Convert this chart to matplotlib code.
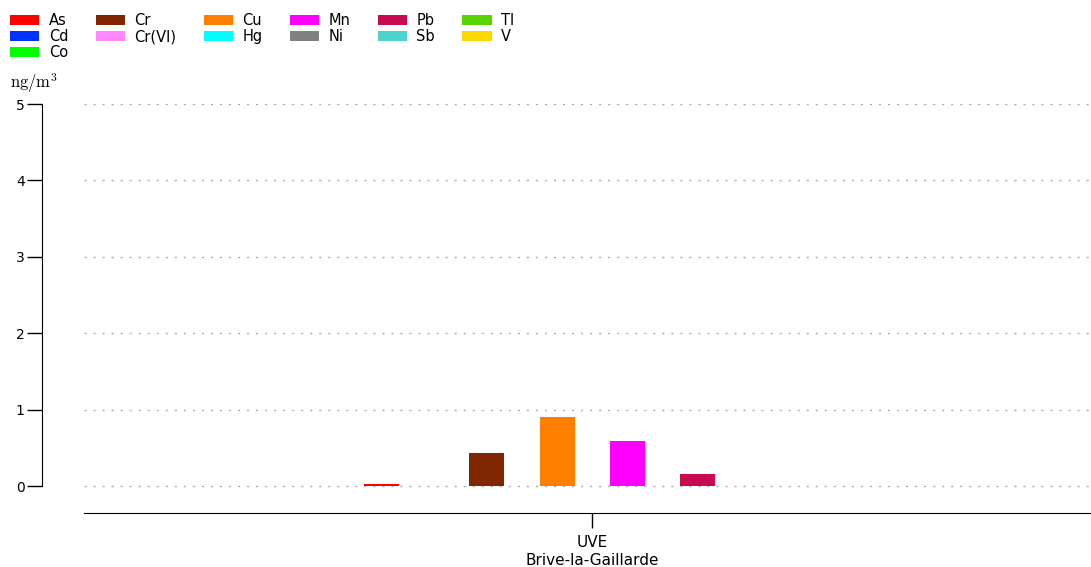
import numpy as np
import matplotlib
matplotlib.use("Agg")
import matplotlib.pyplot as plt

plt.rcParams['mathtext.fontset'] = 'cm'

# data (ng/m3), nan = no bar
elements = ['As', 'Cd', 'Co', 'Cr', 'Cr(VI)', 'Cu', 'Hg', 'Mn', 'Ni', 'Pb', 'Sb', 'Tl', 'V']
values = [0.025, np.nan, np.nan, 0.43, np.nan, 0.91, np.nan, 0.59, np.nan, 0.16, np.nan, np.nan, np.nan]
colors = ['#ff0000', '#0033ff', '#00ff00', '#802600', '#ff88ff', '#ff8000', '#00ffff',
          '#ff00ff', '#808080', '#c80a50', '#4dd2cc', '#5ad400', '#ffd700']
sites = ['UVE\nBrive-la-Gaillarde']
yticks = [0, 1, 2, 3, 4, 5]

fig = plt.figure(figsize=(10.91, 5.67), dpi=100)
ax = fig.add_axes([84/1091, 1-513/567, 1-84/1091, (513-104)/567])

n = len(elements)
w = 0.452 / n
for i, (el, v, c) in enumerate(zip(elements, values, colors)):
    x = (i - (n - 1) / 2) * w
    ax.bar(x, v, width=w, color=c, linewidth=0, label=el, zorder=2)

ax.set_xlim(-0.5045, 0.4955)
ax.set_ylim(-0.35, 5)
ax.set_xticks([0])
ax.set_xticklabels(sites, fontsize=11, linespacing=1.3)
ax.set_yticks(yticks)
ax.set_yticklabels([str(t) for t in yticks], fontsize=11)
ax.tick_params(axis='x', length=11, width=1, pad=4.5)
ax.tick_params(axis='y', length=10.5, width=1, pad=2)
ax.yaxis.grid(True, linestyle=(0, (1.5, 5)), color='#aaaaaa', linewidth=1)
ax.set_axisbelow(True)

ax.spines['top'].set_visible(False)
ax.spines['right'].set_visible(False)
ax.spines['left'].set_position(('outward', 42 * 0.72))
ax.spines['left'].set_bounds(0, 5)

fig.text(10/1091, 1-83/567, r'$\mathrm{ng/m^3}$', fontsize=12, ha='left', va='center')

fig.legend(loc='upper left', bbox_to_anchor=(10/1091, 1-13/567), ncol=6, frameon=False,
           fontsize=10.5, handlelength=2.0, handleheight=0.62, handletextpad=0.65,
           labelspacing=0.08, columnspacing=1.88, borderpad=0, borderaxespad=0)

fig.savefig('out.png', dpi=100)
